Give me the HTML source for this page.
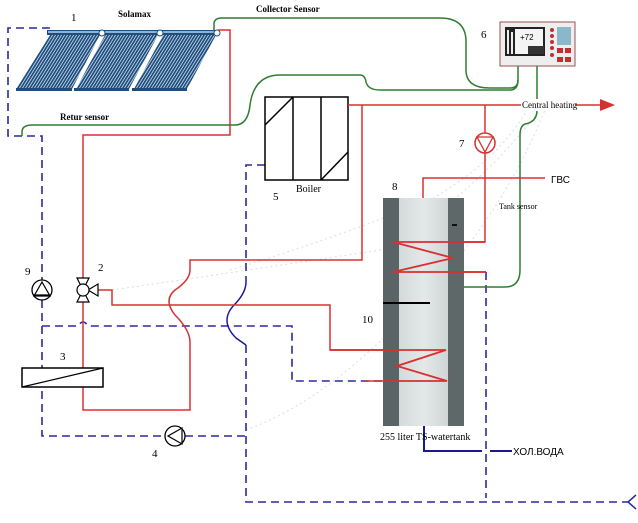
<!DOCTYPE html>
<html><head><meta charset="utf-8"><style>
html,body{margin:0;padding:0;background:#fff;}
svg{display:block;}
text{font-family:"Liberation Serif",serif;}
.s{font-family:"Liberation Sans",sans-serif;}
</style></head><body>
<svg width="638" height="523" viewBox="0 0 638 523" xmlns="http://www.w3.org/2000/svg">
<defs>
<pattern id="st" width="3" height="10" patternUnits="userSpaceOnUse" patternTransform="skewX(-32)">
<rect width="3" height="10" fill="#c8d8e8"/><rect width="2" height="10" fill="#1e4e7e"/>
</pattern>
<linearGradient id="tk" x1="0" x2="1"><stop offset="0" stop-color="#c9cfd0"/><stop offset="0.5" stop-color="#e4e8e8"/><stop offset="1" stop-color="#c2c9ca"/></linearGradient>
</defs>

<!-- faint dotted guide curves -->
<g fill="none" stroke="#ddd" stroke-width="1" stroke-dasharray="2,3">
<path d="M112,290 Q250,270 380,250 Q470,200 540,110"/>
<path d="M246,430 Q330,400 420,300 Q500,220 545,110"/>
<path d="M230,270 Q330,240 430,200 Q500,160 530,105"/>
</g>

<!-- collector -->
<g>
<polygon points="50,35 100,35 72,89 16,89" fill="url(#st)"/>
<polygon points="105,35 158,35 129,89 76,89" fill="url(#st)"/>
<polygon points="163,35 216,35 187,89 134,89" fill="url(#st)"/>
<rect x="47" y="30" width="171" height="5" fill="#1e4e7e"/>
<rect x="48" y="31" width="168" height="2" fill="#8fb3d3"/>
<rect x="16" y="88" width="56" height="3" fill="#1e4e7e"/>
<rect x="74" y="88" width="55" height="3" fill="#1e4e7e"/>
<rect x="132" y="88" width="55" height="3" fill="#1e4e7e"/>
<circle cx="102" cy="33" r="3" fill="#fff" stroke="#1e4e7e"/>
<circle cx="160" cy="33" r="3" fill="#fff" stroke="#1e4e7e"/>
<circle cx="217" cy="33" r="3" fill="#fff" stroke="#1e4e7e"/>
</g>

<!-- blue dashed -->
<g fill="none" stroke="#2a2a9a" stroke-width="1.6" stroke-dasharray="8,5">
<path d="M50,28 H8 V136 H42 V280"/>
<path d="M42,300 V436 H165"/>
<path d="M185,436 H246"/>
<path d="M42,326 H78 Q83,318 88,326 H292 V381 H460"/>
<path d="M265,165 H246 V282"/>
<path d="M246,345 V502 H628"/>
<path d="M486,272 V498"/>
</g>
<path d="M246,282 Q246,292 236,303 Q218,320 236,338 Q246,345 246,345" fill="none" stroke="#1a1a9a" stroke-width="1.5"/>
<path d="M636,495 L628,502 L636,509" fill="none" stroke="#2a2a9a" stroke-width="1.5"/>
<path d="M424,426 V451 H482 M490,451 H512" fill="none" stroke="#1a1a8a" stroke-width="2"/>
<text x="513" y="455" class="s" font-size="10" fill="#000">ХОЛ.ВОДА</text>

<!-- green -->
<g fill="none" stroke="#2e7d32" stroke-width="1.5">
<path d="M214,30 V24 Q214,18 222,18 H440 Q465,18 466,40 V70 Q466,88 490,88 H510 Q518,88 518,80 V65"/>
<path d="M22,136 V132 Q22,125 32,125 H235 Q248,125 250,105 Q254,75 280,75 H360 Q365,75 366,82 Q368,90 380,90 H510 Q518,90 518,80"/>
<path d="M537,65 V110 Q537,122 525,124 Q520,126 520,135 V270 Q520,287 505,287 H462"/>
</g>

<!-- controller -->
<rect x="500" y="22" width="75" height="44" fill="#eee" stroke="#9a5050"/>
<rect x="505" y="27" width="40" height="29" fill="#222"/>
<rect x="515" y="29" width="28" height="25" fill="#f4f4f4"/>
<rect x="507" y="30" width="2" height="24" fill="#eee"/><rect x="511" y="32" width="2" height="22" fill="#eee"/>
<text x="520" y="40" font-size="8" class="s">+72</text>
<rect x="528" y="46" width="16" height="8" fill="#333"/>
<g fill="#c03030"><circle cx="552" cy="30" r="2"/><circle cx="552" cy="36" r="2"/><circle cx="552" cy="42" r="2"/><circle cx="552" cy="48" r="2"/><circle cx="552" cy="55" r="2"/>
<rect x="557" y="48" width="6" height="5"/><rect x="565" y="48" width="6" height="5"/><rect x="557" y="57" width="6" height="5"/><rect x="565" y="57" width="6" height="5"/></g>
<rect x="557" y="27" width="14" height="18" fill="#8ab8c8"/>

<!-- boiler -->
<g fill="none" stroke="#000" stroke-width="1.5">
<rect x="265" y="97" width="83" height="83" fill="#fff"/>
<path d="M293,97 V180 M321,97 V180 M265,125 L293,97 M321,180 L348,152"/>
</g>

<!-- red lines -->
<g fill="none" stroke="#d83030" stroke-width="1.5">
<path d="M218,30 H230 V135 H83 V280"/>
<path d="M83,300 V368 M83,387 V410 H190 V342 Q190,330 175,315 Q163,300 175,290 Q190,280 190,270 V260 H362 V105"/>
<path d="M348,105 H603"/>
<path d="M485,105 V133 M485,153 V242 H393 L453,258 L393,272 H486"/>
<path d="M98,290 H112 V305 H330 V350 H446 L397,366 L447,381 H365"/>
<path d="M423,198 V178 H545"/>
</g>
<polygon points="600,99 615,105 600,111" fill="#d83030"/>
<rect x="521" y="99" width="54" height="12" fill="#fff"/>
<text x="522" y="108" font-size="9">Central heating</text>
<text x="551" y="183" class="s" font-size="10">ГВС</text>

<!-- pump 7 -->
<circle cx="485" cy="143" r="10" fill="#fff" stroke="#d83030" stroke-width="1.5"/>
<path d="M477,137 H493 L485,152 Z" fill="none" stroke="#d83030" stroke-width="1.3"/>

<!-- tank -->
<rect x="383" y="198" width="81" height="228" fill="url(#tk)"/>
<rect x="383" y="198" width="16" height="228" fill="#5a6466"/>
<rect x="448" y="198" width="16" height="228" fill="#5e6868"/>
<rect x="452" y="224" width="5" height="2" fill="#111"/>
<g fill="none" stroke="#d83030" stroke-width="1.8">
<path d="M393,242 H485 M393,242 L453,258 L393,272 H486"/>
<path d="M330,350 H446 L397,366 L447,381 H383"/>
</g>
<path d="M383,303 H430" stroke="#000" stroke-width="2"/>
<text x="380" y="440" font-size="10">255 liter TS-watertank</text>

<!-- heat exchanger 3 -->
<rect x="22" y="368" width="81" height="19" fill="#fff" stroke="#000" stroke-width="1.5"/>
<path d="M22,387 L103,368" stroke="#000" stroke-width="1.2"/>

<!-- pump 9 -->
<circle cx="42" cy="290" r="10" fill="#fff" stroke="#000" stroke-width="1.3"/>
<path d="M34,296 H50 L42,282 Z M33,295 H51" fill="none" stroke="#000" stroke-width="1.2"/>
<!-- pump 4 -->
<circle cx="175" cy="436" r="10" fill="#fff" stroke="#000" stroke-width="1.3"/>
<path d="M182,428 V444 L168,436 Z" fill="none" stroke="#000" stroke-width="1.2"/>
<!-- valve 2 -->
<g fill="#fff" stroke="#000" stroke-width="1.2">
<path d="M77,278 H89 L83,290 Z M77,302 H89 L83,290 Z M98,284 V296 L88,290 Z"/>
<circle cx="83" cy="290" r="6"/>
</g>

<!-- labels -->
<g class="s" font-size="11" fill="#000">
<text x="71" y="21">1</text><text x="481" y="38">6</text><text x="459" y="147">7</text>
<text x="392" y="190">8</text><text x="273" y="200">5</text><text x="25" y="275">9</text>
<text x="98" y="271">2</text><text x="60" y="360">3</text><text x="152" y="457">4</text>
<text x="362" y="323">10</text>
</g>
<g font-size="9" font-weight="bold">
<text x="118" y="17">Solamax</text>
<text x="256" y="12">Collector Sensor</text>
<text x="60" y="120">Retur sensor</text>
</g>
<text x="296" y="192" font-size="10">Boiler</text>
<text x="499" y="209" font-size="8">Tank sensor</text>
</svg>
</body></html>
